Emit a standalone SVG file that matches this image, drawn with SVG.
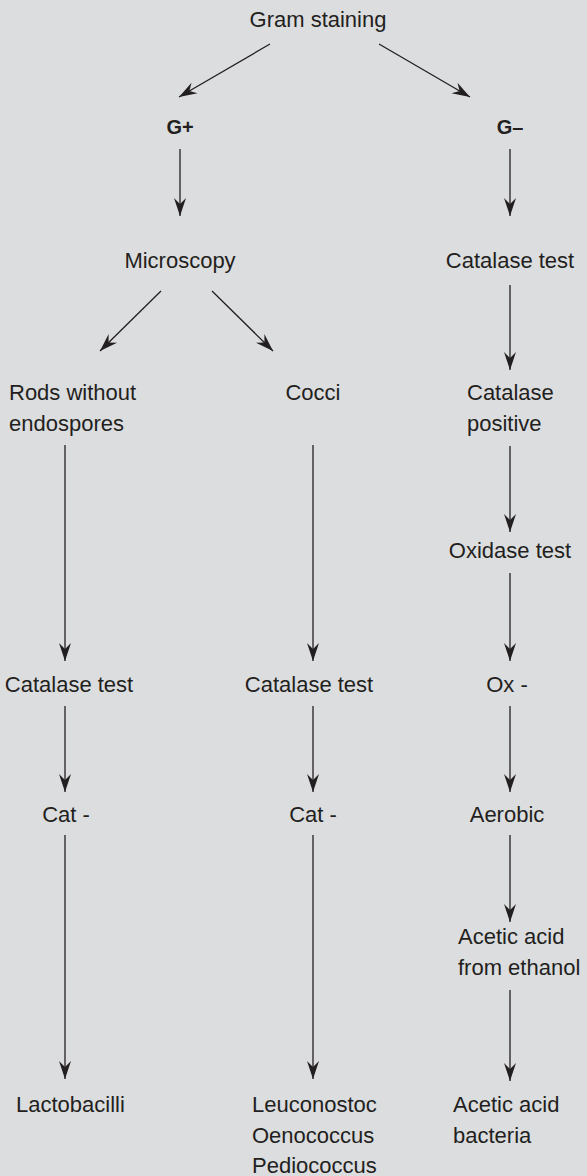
<svg xmlns="http://www.w3.org/2000/svg" width="587" height="1176" viewBox="0 0 587 1176">
<style>
text{font-family:"Liberation Sans",Arial,sans-serif;font-size:22px;fill:#231f20}
.c{text-anchor:middle}
.b{font-weight:bold;font-size:20px}
.e{stroke:#231f20;stroke-width:1.3;fill:none;marker-end:url(#ah)}
</style>
<defs>
<marker id="ah" markerUnits="userSpaceOnUse" markerWidth="20" markerHeight="14" viewBox="-18 -7 20 14" refX="0" refY="0" orient="auto">
<path d="M0,0 L-18,-6 L-12,0 L-18,6 Z" fill="#231f20"/>
</marker>
</defs>
<rect width="587" height="1176" fill="#dcdddf"/>
<g id="connectors">
<line class="e" x1="270" y1="44" x2="179" y2="97"/>
<line class="e" x1="379" y1="44" x2="470" y2="97"/>
<line class="e" x1="180" y1="149" x2="180" y2="216"/>
<line class="e" x1="510" y1="149" x2="510" y2="216"/>
<line class="e" x1="161" y1="291" x2="100" y2="351"/>
<line class="e" x1="212" y1="291" x2="273" y2="351"/>
<line class="e" x1="510" y1="285" x2="510" y2="370"/>
<line class="e" x1="510" y1="446" x2="510" y2="532"/>
<line class="e" x1="65" y1="445" x2="65" y2="661"/>
<line class="e" x1="313" y1="445" x2="313" y2="661"/>
<line class="e" x1="510" y1="573" x2="510" y2="661"/>
<line class="e" x1="65" y1="706" x2="65" y2="792"/>
<line class="e" x1="313" y1="706" x2="313" y2="792"/>
<line class="e" x1="510" y1="706" x2="510" y2="792"/>
<line class="e" x1="510" y1="835" x2="510" y2="922"/>
<line class="e" x1="65" y1="835" x2="65" y2="1079"/>
<line class="e" x1="313" y1="835" x2="313" y2="1079"/>
<line class="e" x1="510" y1="990" x2="510" y2="1081"/>
</g>
<g id="gram"><text class="c" x="318" y="27">Gram staining</text></g>
<g id="gpos"><text class="c b" x="180" y="134">G+</text></g>
<g id="gneg"><text class="c b" x="510" y="134">G–</text></g>
<g id="microscopy"><text class="c" x="180" y="268">Microscopy</text></g>
<g id="catalase-neg"><text class="c" x="510" y="268">Catalase test</text></g>
<g id="rods"><text x="9" y="400">Rods without</text><text x="9" y="431">endospores</text></g>
<g id="cocci"><text class="c" x="313" y="400">Cocci</text></g>
<g id="catpos"><text x="467" y="400">Catalase</text><text x="467" y="431">positive</text></g>
<g id="oxidase"><text class="c" x="510" y="558">Oxidase test</text></g>
<g id="cat-rods"><text class="c" x="69" y="692">Catalase test</text></g>
<g id="cat-cocci"><text class="c" x="309" y="692">Catalase test</text></g>
<g id="oxneg"><text class="c" x="507" y="692">Ox -</text></g>
<g id="catneg-rods"><text class="c" x="66" y="822">Cat -</text></g>
<g id="catneg-cocci"><text class="c" x="313" y="822">Cat -</text></g>
<g id="aerobic"><text class="c" x="507" y="822">Aerobic</text></g>
<g id="acetic-ethanol"><text x="458" y="944">Acetic acid</text><text x="458" y="975">from ethanol</text></g>
<g id="lactobacilli"><text x="16" y="1112">Lactobacilli</text></g>
<g id="leuco"><text x="252" y="1112">Leuconostoc</text><text x="252" y="1143">Oenococcus</text><text x="252" y="1173">Pediococcus</text></g>
<g id="aab"><text x="453" y="1112">Acetic acid</text><text x="453" y="1143">bacteria</text></g>
</svg>
